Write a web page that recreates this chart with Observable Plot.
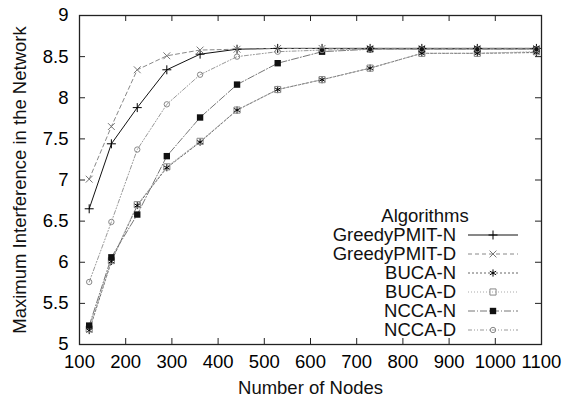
<!DOCTYPE html>
<html>
<head>
<meta charset="utf-8">
<script src="https://cdn.jsdelivr.net/npm/d3@7"></script>
<script src="https://cdn.jsdelivr.net/npm/@observablehq/plot@0.6"></script>
<style>
  html, body { margin: 0; padding: 0; background: white; }
  svg { display: block; }
</style>
</head>
<body>
<div id="chart"></div>
<script>
// ---- data ----
const nodes = [121, 169, 225, 289, 361, 441, 529, 625, 729, 841, 961, 1089];
const greedyN = [6.65, 7.44, 7.88, 8.34, 8.53, 8.59, 8.60, 8.60, 8.60, 8.60, 8.60, 8.60];
const greedyD = [7.01, 7.65, 8.34, 8.51, 8.58, 8.59, 8.60, 8.60, 8.60, 8.60, 8.60, 8.60];
const bucaN   = [5.17, 6.01, 6.69, 7.15, 7.46, 7.85, 8.10, 8.22, 8.36, 8.54, 8.54, 8.55];
const bucaD   = [5.19, 6.02, 6.70, 7.16, 7.47, 7.85, 8.10, 8.22, 8.36, 8.54, 8.54, 8.56];
const nccaN   = [5.23, 6.06, 6.58, 7.29, 7.76, 8.16, 8.42, 8.56, 8.59, 8.59, 8.59, 8.59];
const nccaD   = [5.76, 6.49, 7.37, 7.92, 8.28, 8.50, 8.56, 8.58, 8.59, 8.59, 8.59, 8.59];
const seriesNames = ["GreedyPMIT-N", "GreedyPMIT-D", "BUCA-N", "BUCA-D", "NCCA-N", "NCCA-D"];
const seriesValues = [greedyN, greedyD, bucaN, bucaD, nccaN, nccaD];
const xTicks = [100, 200, 300, 400, 500, 600, 700, 800, 900, 1000, 1100];
const yTicks = [5, 5.5, 6, 6.5, 7, 7.5, 8, 8.5, 9];
const xLabel = "Number of Nodes";
const yLabel = "Maximum Interference in the Network";
const legendTitle = "Algorithms";

// ---- styles ----
const styles = [
  {stroke: "#111", dash: null, symbol: "plus", r: 3.0, fill: "none", mstroke: "#000"},
  {stroke: "#888", dash: "4,3", symbol: "times", r: 3.2, fill: "none", mstroke: "#777"},
  {stroke: "#666", dash: "2,2", symbol: "asterisk", r: 3.4, fill: "none", mstroke: "#000"},
  {stroke: "#aaa", dash: "1,2", symbol: "square2", r: 3.9, fill: "none", mstroke: "#888"},
  {stroke: "#777", dash: "7,2,1,2", symbol: "square", r: 3.6, fill: "#111", mstroke: "none"},
  {stroke: "#999", dash: "4,2,1,2,1,2", symbol: "circle", r: 2.7, fill: "none", mstroke: "#888"}
];

const W = 565, H = 398;
const mL = 79, mR = 24, mT = 15, mB = 54;
const innerW = W - mL - mR, innerH = H - mT - mB;
const tickLen = 6;
const FONT = "'Liberation Sans', Arial, Helvetica, sans-serif";
const FS = 18.5;

const rows = seriesNames.map((name, i) => nodes.map((n, j) => ({name, n, v: seriesValues[i][j]})));

const marks = [];
rows.forEach((data, i) => {
  const s = styles[i];
  marks.push(Plot.line(data, {x: "n", y: "v", stroke: s.stroke, strokeWidth: 1, strokeDasharray: s.dash}));
});
rows.forEach((data, i) => {
  const s = styles[i];
  marks.push(Plot.dot(data, {x: "n", y: "v", symbol: () => s.symbol, r: s.r, fill: s.fill, stroke: s.mstroke, strokeWidth: 1}));
});

const svg = Plot.plot({
  width: W, height: H,
  marginLeft: mL, marginRight: mR, marginTop: mT, marginBottom: mB,
  style: {fontFamily: FONT, fontSize: FS + "px", background: "white", color: "#000"},
  x: {domain: [100, 1100]},
  y: {domain: [5, 9]},
  marks: [
    Plot.axisX(xTicks, {tickSize: 0, tickPadding: 10, label: null, fontSize: FS, tickFormat: d => String(d)}),
    Plot.axisY(yTicks, {tickSize: 0, tickPadding: 11, label: null, fontSize: FS, tickFormat: d => String(d)}),
    Plot.text([xLabel], {text: d => d, frameAnchor: "bottom", dy: 49, fontSize: FS, fill: "#111"}),
    Plot.text([yLabel], {text: d => d, frameAnchor: "left", textAnchor: "middle", rotate: -90, dx: -59, fontSize: FS, fill: "#111"}),
    Plot.tickX(xTicks, {x: d => d, insetTop: innerH - tickLen, stroke: "#222"}),
    Plot.tickX(xTicks, {x: d => d, insetBottom: innerH - tickLen, stroke: "#222"}),
    Plot.tickY(yTicks, {y: d => d, insetRight: innerW - tickLen, stroke: "#222"}),
    Plot.tickY(yTicks, {y: d => d, insetLeft: innerW - tickLen, stroke: "#222"}),
    ...marks,
    Plot.frame({stroke: "#222", strokeWidth: 1.3})
  ]
});

// ---- legend (gnuplot-style key inside the plot, lower right) ----
const key = d3.select(svg).append("g")
  .attr("font-family", FONT)
  .attr("font-size", FS);
const textRight = 456, sampleX1 = 468, sampleX2 = 518, sampleMid = 493;
const titleY = 216, row0 = 235, rowGap = 19;
key.append("text").attr("x", 425).attr("y", titleY).attr("dy", "0.35em")
  .attr("text-anchor", "middle").attr("fill", "#111").text(legendTitle);
const symMap = {plus: d3.symbolPlus, times: d3.symbolTimes, asterisk: d3.symbolAsterisk,
  square2: d3.symbolSquare2, square: d3.symbolSquare, circle: d3.symbolCircle};
seriesNames.forEach((name, i) => {
  const s = styles[i];
  const y = row0 + i * rowGap;
  key.append("text").attr("x", textRight).attr("y", y).attr("dy", "0.35em")
    .attr("text-anchor", "end").attr("fill", "#111").text(name);
  key.append("line").attr("x1", sampleX1).attr("x2", sampleX2).attr("y1", y).attr("y2", y)
    .attr("stroke", s.stroke).attr("stroke-width", 1).attr("stroke-dasharray", s.dash);
  key.append("path").attr("transform", `translate(${sampleMid},${y})`)
    .attr("d", d3.symbol(symMap[s.symbol], s.r * s.r * Math.PI)())
    .attr("fill", s.fill).attr("stroke", s.mstroke).attr("stroke-width", 1);
});

document.getElementById("chart").appendChild(svg);
</script>
</body>
</html>
